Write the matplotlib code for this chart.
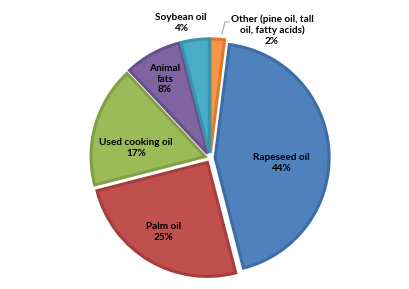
import matplotlib
matplotlib.use("Agg")
import matplotlib.pyplot as plt

# data (clockwise from 12 o'clock)
categories = ["Other (pine oil, tall oil, fatty acids)", "Rapeseed oil", "Palm oil",
              "Used cooking oil", "Animal fats", "Soybean oil"]
values = [2, 44, 25, 17, 8, 4]
label_texts = ["Other (pine oil, tall\noil, fatty acids)\n2%", "Rapeseed oil\n44%",
               "Palm oil\n25%", "Used cooking oil\n17%", "Animal\nfats\n8%",
               "Soybean oil\n4%"]

face_colors = ["#F79646", "#4F81BD", "#C0504D", "#9BBB59", "#8064A2", "#4BACC6"]
edge_colors = ["#DB7B2C", "#3D6DA6", "#A63E3B", "#82A043", "#69508A", "#3894AD"]

W, H = 410, 289
CX, CY, S = 210, 158, 114  # pixel centre and pixels per unit

def px(x, y):
    return ((x - CX) / S, (CY - y) / S)

fig = plt.figure(figsize=(W / 100, H / 100), dpi=100)
ax = fig.add_axes([0, 0, 1, 1])

wedges, _ = ax.pie(values, startangle=90, counterclock=False, radius=1.0,
                   explode=[0.045] * len(values), colors=face_colors,
                   wedgeprops=dict(linewidth=2.2))
for w, ec in zip(wedges, edge_colors):
    w.set_edgecolor(ec)

# label positions (pixels)
label_pos = [(272, 30), (281, 163), (164, 232), (136, 148), (165, 79), (181, 23)]
for txt, (lx, ly) in zip(label_texts, label_pos):
    x, y = px(lx, ly)
    ax.text(x, y, txt, ha="center", va="center", fontsize=7.2, fontweight="bold",
            family="Lato", color="#000000", linespacing=1.25)

# leader line for "Other"
pts = [px(222, 34), px(225, 22), px(229, 22)]
ax.plot([p[0] for p in pts], [p[1] for p in pts], color="#A6A6A6", linewidth=0.8)

ax.set_xlim(-CX / S, (W - CX) / S)
ax.set_ylim((CY - H) / S, CY / S)
ax.set_aspect("auto")
ax.axis("off")
fig.savefig("out.png", dpi=100, facecolor="white")
